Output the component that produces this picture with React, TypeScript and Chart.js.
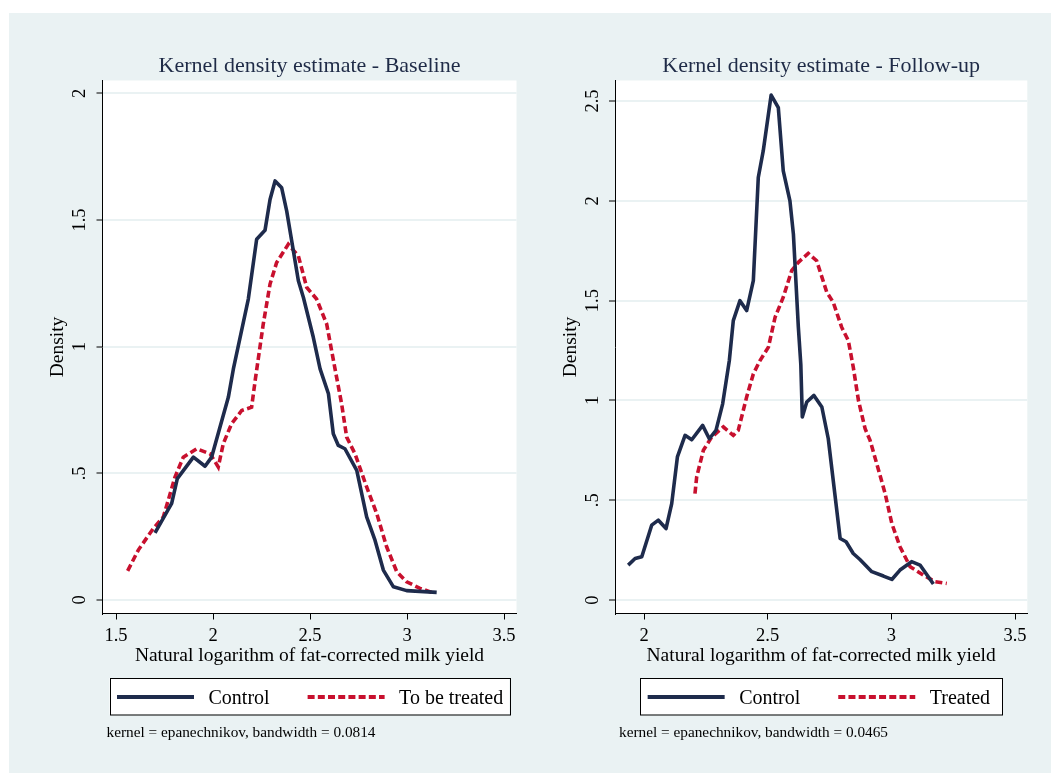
import React, { useEffect, useRef } from "react";
import { Chart, registerables } from "chart.js";
Chart.register(...registerables);

// ---------- data ----------
const xTicksLeft = [1.5, 2, 2.5, 3, 3.5];
const xTickLabelsLeft = ["1.5", "2", "2.5", "3", "3.5"];
const yTicksLeft = [0, 0.5, 1, 1.5, 2];
const yTickLabelsLeft = ["0", ".5", "1", "1.5", "2"];

const xTicksRight = [2, 2.5, 3, 3.5];
const xTickLabelsRight = ["2", "2.5", "3", "3.5"];
const yTicksRight = [0, 0.5, 1, 1.5, 2, 2.5];
const yTickLabelsRight = ["0", ".5", "1", "1.5", "2", "2.5"];

const baseControlX = [1.701, 1.787, 1.816, 1.899, 1.959, 1.993, 2.079, 2.105, 2.182, 2.225, 2.268, 2.294, 2.32, 2.354, 2.38, 2.44, 2.466, 2.517, 2.552, 2.595, 2.62, 2.646, 2.68, 2.741, 2.792, 2.835, 2.878, 2.93, 2.998, 3.153];
const baseControlY = [0.265, 0.381, 0.479, 0.564, 0.528, 0.564, 0.8, 0.912, 1.188, 1.424, 1.459, 1.581, 1.654, 1.627, 1.535, 1.26, 1.194, 1.037, 0.912, 0.814, 0.656, 0.61, 0.597, 0.512, 0.328, 0.236, 0.118, 0.052, 0.037, 0.03];

const baseTreatedX = [1.56, 1.615, 1.692, 1.744, 1.804, 1.847, 1.916, 1.985, 2.027, 2.053, 2.096, 2.148, 2.199, 2.218, 2.259, 2.294, 2.328, 2.388, 2.44, 2.483, 2.534, 2.586, 2.629, 2.663, 2.689, 2.732, 2.792, 2.844, 2.895, 2.947, 2.998, 3.067, 3.127];
const baseTreatedY = [0.115, 0.197, 0.282, 0.328, 0.485, 0.564, 0.597, 0.577, 0.525, 0.617, 0.696, 0.748, 0.761, 0.87, 1.089, 1.247, 1.332, 1.404, 1.358, 1.234, 1.188, 1.089, 0.912, 0.774, 0.643, 0.577, 0.446, 0.341, 0.21, 0.112, 0.072, 0.046, 0.03];

const followControlX = [1.936, 1.964, 1.991, 2.031, 2.058, 2.089, 2.112, 2.135, 2.166, 2.193, 2.237, 2.264, 2.291, 2.318, 2.345, 2.361, 2.388, 2.415, 2.442, 2.462, 2.482, 2.514, 2.543, 2.563, 2.59, 2.604, 2.624, 2.634, 2.64, 2.658, 2.687, 2.719, 2.745, 2.793, 2.817, 2.846, 2.873, 2.921, 2.968, 3.002, 3.035, 3.082, 3.116, 3.17];
const followControlY = [0.175, 0.208, 0.217, 0.375, 0.4, 0.358, 0.483, 0.717, 0.825, 0.803, 0.875, 0.808, 0.85, 0.983, 1.2, 1.4, 1.5, 1.45, 1.6, 2.117, 2.25, 2.53, 2.467, 2.15, 2.0, 1.833, 1.367, 1.18, 0.917, 0.992, 1.025, 0.967, 0.808, 0.308, 0.292, 0.233, 0.203, 0.142, 0.12, 0.103, 0.15, 0.192, 0.175, 0.08];

const followTreatedX = [2.206, 2.213, 2.24, 2.274, 2.321, 2.361, 2.381, 2.415, 2.442, 2.469, 2.503, 2.53, 2.563, 2.597, 2.624, 2.664, 2.698, 2.739, 2.765, 2.799, 2.826, 2.846, 2.867, 2.894, 2.914, 2.941, 2.975, 3.002, 3.035, 3.076, 3.129, 3.177, 3.224];
const followTreatedY = [0.533, 0.617, 0.75, 0.817, 0.867, 0.825, 0.85, 1.017, 1.133, 1.2, 1.267, 1.417, 1.517, 1.65, 1.692, 1.737, 1.7, 1.542, 1.492, 1.367, 1.3, 1.167, 1.0, 0.858, 0.8, 0.683, 0.533, 0.383, 0.267, 0.167, 0.125, 0.092, 0.083];

const titles = ["Kernel density estimate - Baseline", "Kernel density estimate - Follow-up"];
const legendLabelsLeft = ["Control", "To be treated"];
const legendLabelsRight = ["Control", "Treated"];
const notes = ["kernel = epanechnikov, bandwidth = 0.0814", "kernel = epanechnikov, bandwidth = 0.0465"];
const xAxisTitle = "Natural logarithm of fat-corrected milk yield";
const yAxisTitle = "Density";

// ---------- style ----------
const NAVY = "#1e2b4c";
const RED = "#c8102e";
const BG = "#eaf2f3";
const TITLE_COLOR = "#1f2b47";
const SERIF = "'Liberation Serif', 'Times New Roman', serif";
const CANVAS_W = 521;
const CANVAS_H = 760;

const zip = (xs: number[], ys: number[]) => xs.map((x, i) => ({ x, y: ys[i] }));

type PanelProps = {
  title: string;
  note: string;
  legend: string[];
  control: { x: number; y: number }[];
  treated: { x: number; y: number }[];
  xTicks: number[];
  xTickLabels: string[];
  yTicks: number[];
  yTickLabels: string[];
  xMin: number;
  xMax: number;
  yMin: number;
  yMax: number;
  areaLeft: number;
  areaRight: number;
  legendW: number;
};

function Panel(p: PanelProps) {
  const ref = useRef<HTMLCanvasElement | null>(null);
  useEffect(() => {
    if (!ref.current) return;
    const areaTop = 67.5;
    const yW = 56.2;
    const xH = 53.7;
    const padLeft = p.areaLeft - yW;
    const padRight = CANVAS_W - p.areaRight;
    const padBottom = CANVAS_H - (654.2);

    const decor = {
      id: "decor",
      beforeDraw(chart: any) {
        const { ctx, chartArea: a } = chart;
        ctx.save();
        ctx.fillStyle = "#ffffff";
        ctx.fillRect(a.left, a.top, a.right - a.left, a.bottom - a.top);
        ctx.restore();
      },
      afterDraw(chart: any) {
        const { ctx, chartArea: a } = chart;
        const ys = chart.scales.y;
        ctx.save();
        // y tick labels (rotated, as in Stata)
        ctx.fillStyle = "#000";
        ctx.font = `18.5px ${SERIF}`;
        ctx.textAlign = "center";
        ctx.textBaseline = "alphabetic";
        p.yTicks.forEach((v, i) => {
          const py = ys.getPixelForValue(v);
          ctx.save();
          ctx.translate(a.left - 17.5, py);
          ctx.rotate(-Math.PI / 2);
          ctx.fillText(p.yTickLabels[i], 0, 0);
          ctx.restore();
        });
        const cx = (a.left + a.right) / 2;
        // title
        ctx.fillStyle = TITLE_COLOR;
        ctx.font = `22px ${SERIF}`;
        ctx.textAlign = "center";
        ctx.textBaseline = "alphabetic";
        ctx.fillText(p.title, cx, a.top - 8.5);
        // legend box
        const boxTop = 665;
        const boxH = 36.5;
        const boxL = cx - p.legendW / 2;
        ctx.fillStyle = "#fff";
        ctx.fillRect(boxL, boxTop, p.legendW, boxH);
        ctx.strokeStyle = "#000";
        ctx.lineWidth = 1;
        ctx.strokeRect(Math.round(boxL) + 0.5, boxTop + 0.5, Math.round(p.legendW), boxH);
        const lineY = boxTop + 19;
        const textY = boxTop + 26;
        ctx.font = `20px ${SERIF}`;
        ctx.textAlign = "left";
        ctx.fillStyle = "#000";
        let x = boxL + 7.5;
        const sampleW = 77;
        const styles = [
          { color: NAVY, dash: [] as number[] },
          { color: RED, dash: [7, 3.2] },
        ];
        p.legend.forEach((label, i) => {
          ctx.save();
          ctx.strokeStyle = styles[i].color;
          ctx.lineWidth = 4;
          ctx.lineCap = "butt";
          ctx.setLineDash(styles[i].dash);
          ctx.beginPath();
          ctx.moveTo(x, lineY);
          ctx.lineTo(x + sampleW, lineY);
          ctx.stroke();
          ctx.restore();
          ctx.fillStyle = "#000";
          ctx.fillText(label, x + sampleW + 14.5, textY);
          x = x + sampleW + 14.5 + ctx.measureText(label).width + 38;
        });
        // note
        ctx.font = `15.3px ${SERIF}`;
        ctx.fillStyle = "#000";
        ctx.textAlign = "left";
        ctx.fillText(p.note, a.left + 4, 724);
        ctx.restore();
      },
    };

    const chart = new Chart(ref.current, {
      type: "line",
      data: {
        datasets: [
          {
            label: p.legend[0],
            data: p.control,
            borderColor: NAVY,
            borderWidth: 3.6,
            pointRadius: 0,
            tension: 0,
            fill: false,
            borderJoinStyle: "round",
          },
          {
            label: p.legend[1],
            data: p.treated,
            borderColor: RED,
            borderWidth: 3.6,
            borderDash: [7, 3.5],
            pointRadius: 0,
            tension: 0,
            fill: false,
          },
        ],
      },
      options: {
        animation: false,
        responsive: false,
        devicePixelRatio: 1,
        layout: { padding: { left: padLeft, right: padRight, top: areaTop, bottom: padBottom } },
        plugins: { legend: { display: false }, title: { display: false }, tooltip: { enabled: false } },
        scales: {
          x: {
            type: "linear",
            min: p.xMin,
            max: p.xMax,
            afterBuildTicks: (s: any) => {
              s.ticks = p.xTicks.map((value) => ({ value }));
            },
            afterFit: (s: any) => {
              s.height = xH;
              s.paddingLeft = 0;
              s.paddingRight = 0;
            },
            grid: { drawOnChartArea: false, drawTicks: true, tickLength: 6, tickColor: "#000", tickWidth: 1 },
            border: { display: true, color: "#000", width: 1 },
            ticks: {
              padding: 5.5,
              color: "#000",
              font: { family: SERIF, size: 18.5 },
              maxRotation: 0,
              minRotation: 0,
              callback: (v: any) => {
                const i = p.xTicks.indexOf(Number(v));
                return i >= 0 ? p.xTickLabels[i] : "";
              },
            },
            title: {
              display: true,
              text: xAxisTitle,
              color: "#000",
              font: { family: SERIF, size: 19.5 },
              padding: { top: 0, bottom: 0 },
            },
          },
          y: {
            type: "linear",
            min: p.yMin,
            max: p.yMax,
            afterBuildTicks: (s: any) => {
              s.ticks = p.yTicks.map((value) => ({ value }));
            },
            afterFit: (s: any) => {
              s.width = yW;
            },
            grid: { color: BG, lineWidth: 2, drawTicks: true, tickLength: 6, tickColor: "#000", tickWidth: 1 },
            border: { display: true, color: "#000", width: 1 },
            ticks: { display: false },
            title: {
              display: true,
              text: yAxisTitle,
              color: "#000",
              font: { family: SERIF, size: 19.5 },
              padding: { top: 0, bottom: 0 },
            },
          },
        },
      },
      plugins: [decor],
    } as any);
    return () => chart.destroy();
  }, []);
  return <canvas ref={ref} width={CANVAS_W} height={CANVAS_H} style={{ width: CANVAS_W, height: CANVAS_H, display: "block" }} />;
}

export default function App() {
  return (
    <div style={{ position: "absolute", left: 0, top: 0, width: 1051, height: 773, background: "#fff", overflow: "hidden" }}>
      <div style={{ position: "absolute", left: 9, top: 13, width: 1042, height: 760, background: BG, display: "flex" }}>
        <Panel
          title={titles[0]}
          note={notes[0]}
          legend={legendLabelsLeft}
          control={zip(baseControlX, baseControlY)}
          treated={zip(baseTreatedX, baseTreatedY)}
          xTicks={xTicksLeft}
          xTickLabels={xTickLabelsLeft}
          yTicks={yTicksLeft}
          yTickLabels={yTickLabelsLeft}
          xMin={1.4304}
          xMax={3.5644}
          yMin={-0.0533}
          yMax={2.0505}
          areaLeft={93.5}
          areaRight={507.5}
          legendW={400}
        />
        <Panel
          title={titles[1]}
          note={notes[1]}
          legend={legendLabelsRight}
          control={zip(followControlX, followControlY)}
          treated={zip(followTreatedX, followTreatedY)}
          xTicks={xTicksRight}
          xTickLabels={xTickLabelsRight}
          yTicks={yTicksRight}
          yTickLabels={yTickLabelsRight}
          xMin={1.8827}
          xMax={3.5497}
          yMin={-0.0676}
          yMax={2.603}
          areaLeft={85}
          areaRight={497.3}
          legendW={362}
        />
      </div>
    </div>
  );
}
